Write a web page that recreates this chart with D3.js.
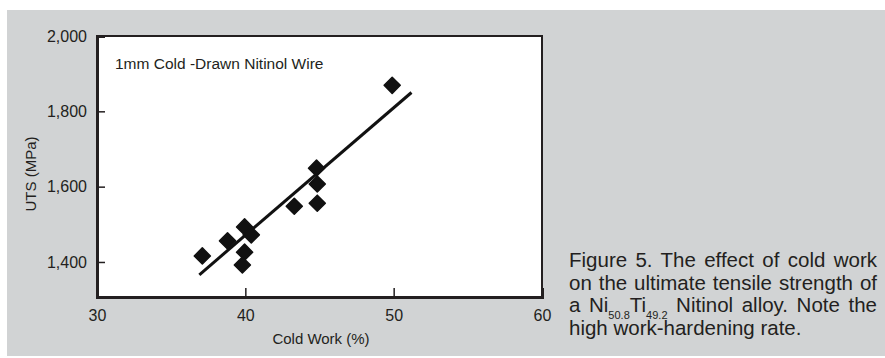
<!DOCTYPE html>
<html>
<head>
<meta charset="utf-8">
<script src="https://cdn.jsdelivr.net/npm/d3@7"></script>
<style>
  body { margin: 0; background: #fff; }
  svg text { font-family: "Liberation Sans", Arial, Helvetica, sans-serif; fill: #231f20; }
</style>
</head>
<body>
<div id="chart"></div>
<script>
// DATA
const coldWork = [37.1, 38.8, 39.95, 40.4, 39.95, 39.8, 43.3, 44.8, 44.85, 44.85, 49.9];
const uts      = [1416, 1456, 1493, 1472, 1426, 1392, 1548, 1649, 1607, 1556, 1869];
const fitX = [36.9, 51.2];
const fitY = [1366, 1850];
const xTicks = [30, 40, 50, 60];
const yTicks = [1400, 1600, 1800, 2000];
const chartTitle = "1mm Cold -Drawn Nitinol Wire";
const xLabel = "Cold Work (%)";
const yLabel = "UTS (MPa)";

// SVG
const W = 885, H = 358;
const svg = d3.select("#chart").append("svg")
    .attr("width", W)
    .attr("height", H);

// gray panel
svg.append("rect")
    .attr("x", 7).attr("y", 10)
    .attr("width", W - 7).attr("height", 346)
    .attr("fill", "#d1d3d4");

// plot box
const box = { left: 97, right: 542, top: 36, bottom: 297 };

const x = d3.scaleLinear().domain([30, 60]).range([box.left, box.right]);
const y = d3.scaleLinear().domain([1307, 2000]).range([box.bottom, box.top]);

svg.append("rect")
    .attr("x", box.left).attr("y", box.top)
    .attr("width", box.right - box.left).attr("height", box.bottom - box.top)
    .attr("fill", "#fff")
    .attr("stroke", "#231f20")
    .attr("stroke-width", 2);

// axes
const yAxis = svg.append("g")
    .attr("transform", `translate(${box.left},0)`)
    .call(d3.axisLeft(y).tickValues(yTicks).tickSize(-8).tickPadding(10)
        .tickFormat(d3.format(",")));

const xAxis = svg.append("g")
    .attr("transform", `translate(0,${box.bottom})`)
    .call(d3.axisBottom(x).tickValues(xTicks).tickSize(-9).tickPadding(13));

[xAxis, yAxis].forEach(a => {
    a.select(".domain").attr("stroke", "#231f20").attr("stroke-width", 3);
    a.selectAll(".tick line").attr("stroke", "#231f20").attr("stroke-width", 1.5);
    a.selectAll(".tick text").style("font-size", "16px").attr("fill", "#231f20");
});
// corner ticks fall on the frame itself
yAxis.selectAll(".tick line").filter(d => d === 2000).remove();
xAxis.selectAll(".tick line").filter(d => d === 30 || d === 60).remove();

// fit line
svg.append("path")
    .datum(d3.zip(fitX, fitY))
    .attr("fill", "none")
    .attr("stroke", "#111")
    .attr("stroke-width", 3)
    .attr("d", d3.line().x(d => x(d[0])).y(d => y(d[1])));

// diamonds
svg.selectAll(".pt")
    .data(d3.zip(coldWork, uts))
    .enter()
    .append("path")
    .attr("class", "pt")
    .attr("d", d3.symbol(d3.symbolSquare).size(130))
    .attr("transform", d => `translate(${x(d[0])},${y(d[1])}) rotate(45)`)
    .attr("fill", "#111")
    .attr("stroke", "#111")
    .attr("stroke-width", 1.5)
    .attr("stroke-linejoin", "round");

// labels
svg.append("text")
    .attr("x", 115).attr("y", 69)
    .style("font-size", "15.5px")
    .text(chartTitle);

svg.append("text")
    .attr("x", 321).attr("y", 344)
    .attr("text-anchor", "middle")
    .style("font-size", "15px")
    .text(xLabel);

svg.append("text")
    .attr("transform", "translate(36,174) rotate(-90)")
    .attr("text-anchor", "middle")
    .style("font-size", "15px")
    .text(yLabel);

// caption, justified
const capLeft = 569, capRight = 877;
const captionLines = [
    [["Figure 5. The effect of cold work"]],
    [["on the ultimate tensile strength of"]],
    [["a Ni"], ["50.8", "sub"], ["Ti"], ["49.2", "sub"], [" Nitinol alloy. Note the"]],
    [["high work-hardening rate."]]
];
const capBase = [267, 290, 312, 335];

captionLines.forEach((segs, i) => {
    const t = svg.append("text")
        .attr("x", capLeft).attr("y", capBase[i])
        .style("font-size", "20.5px");
    let shifted = false;
    segs.forEach(s => {
        const sp = t.append("tspan").text(s[0]);
        if (s[1] === "sub") {
            sp.style("font-size", "11px").attr("dy", 7);
            shifted = true;
        } else if (shifted) {
            sp.attr("dy", -7);
            shifted = false;
        }
    });
    if (i < captionLines.length - 1) {
        const full = segs.map(s => s[0]).join("");
        const spaces = (full.match(/ /g) || []).length;
        const natural = t.node().getComputedTextLength();
        t.attr("word-spacing", Math.max(0, (capRight - capLeft - natural) / spaces));
    }
});
</script>
</body>
</html>
